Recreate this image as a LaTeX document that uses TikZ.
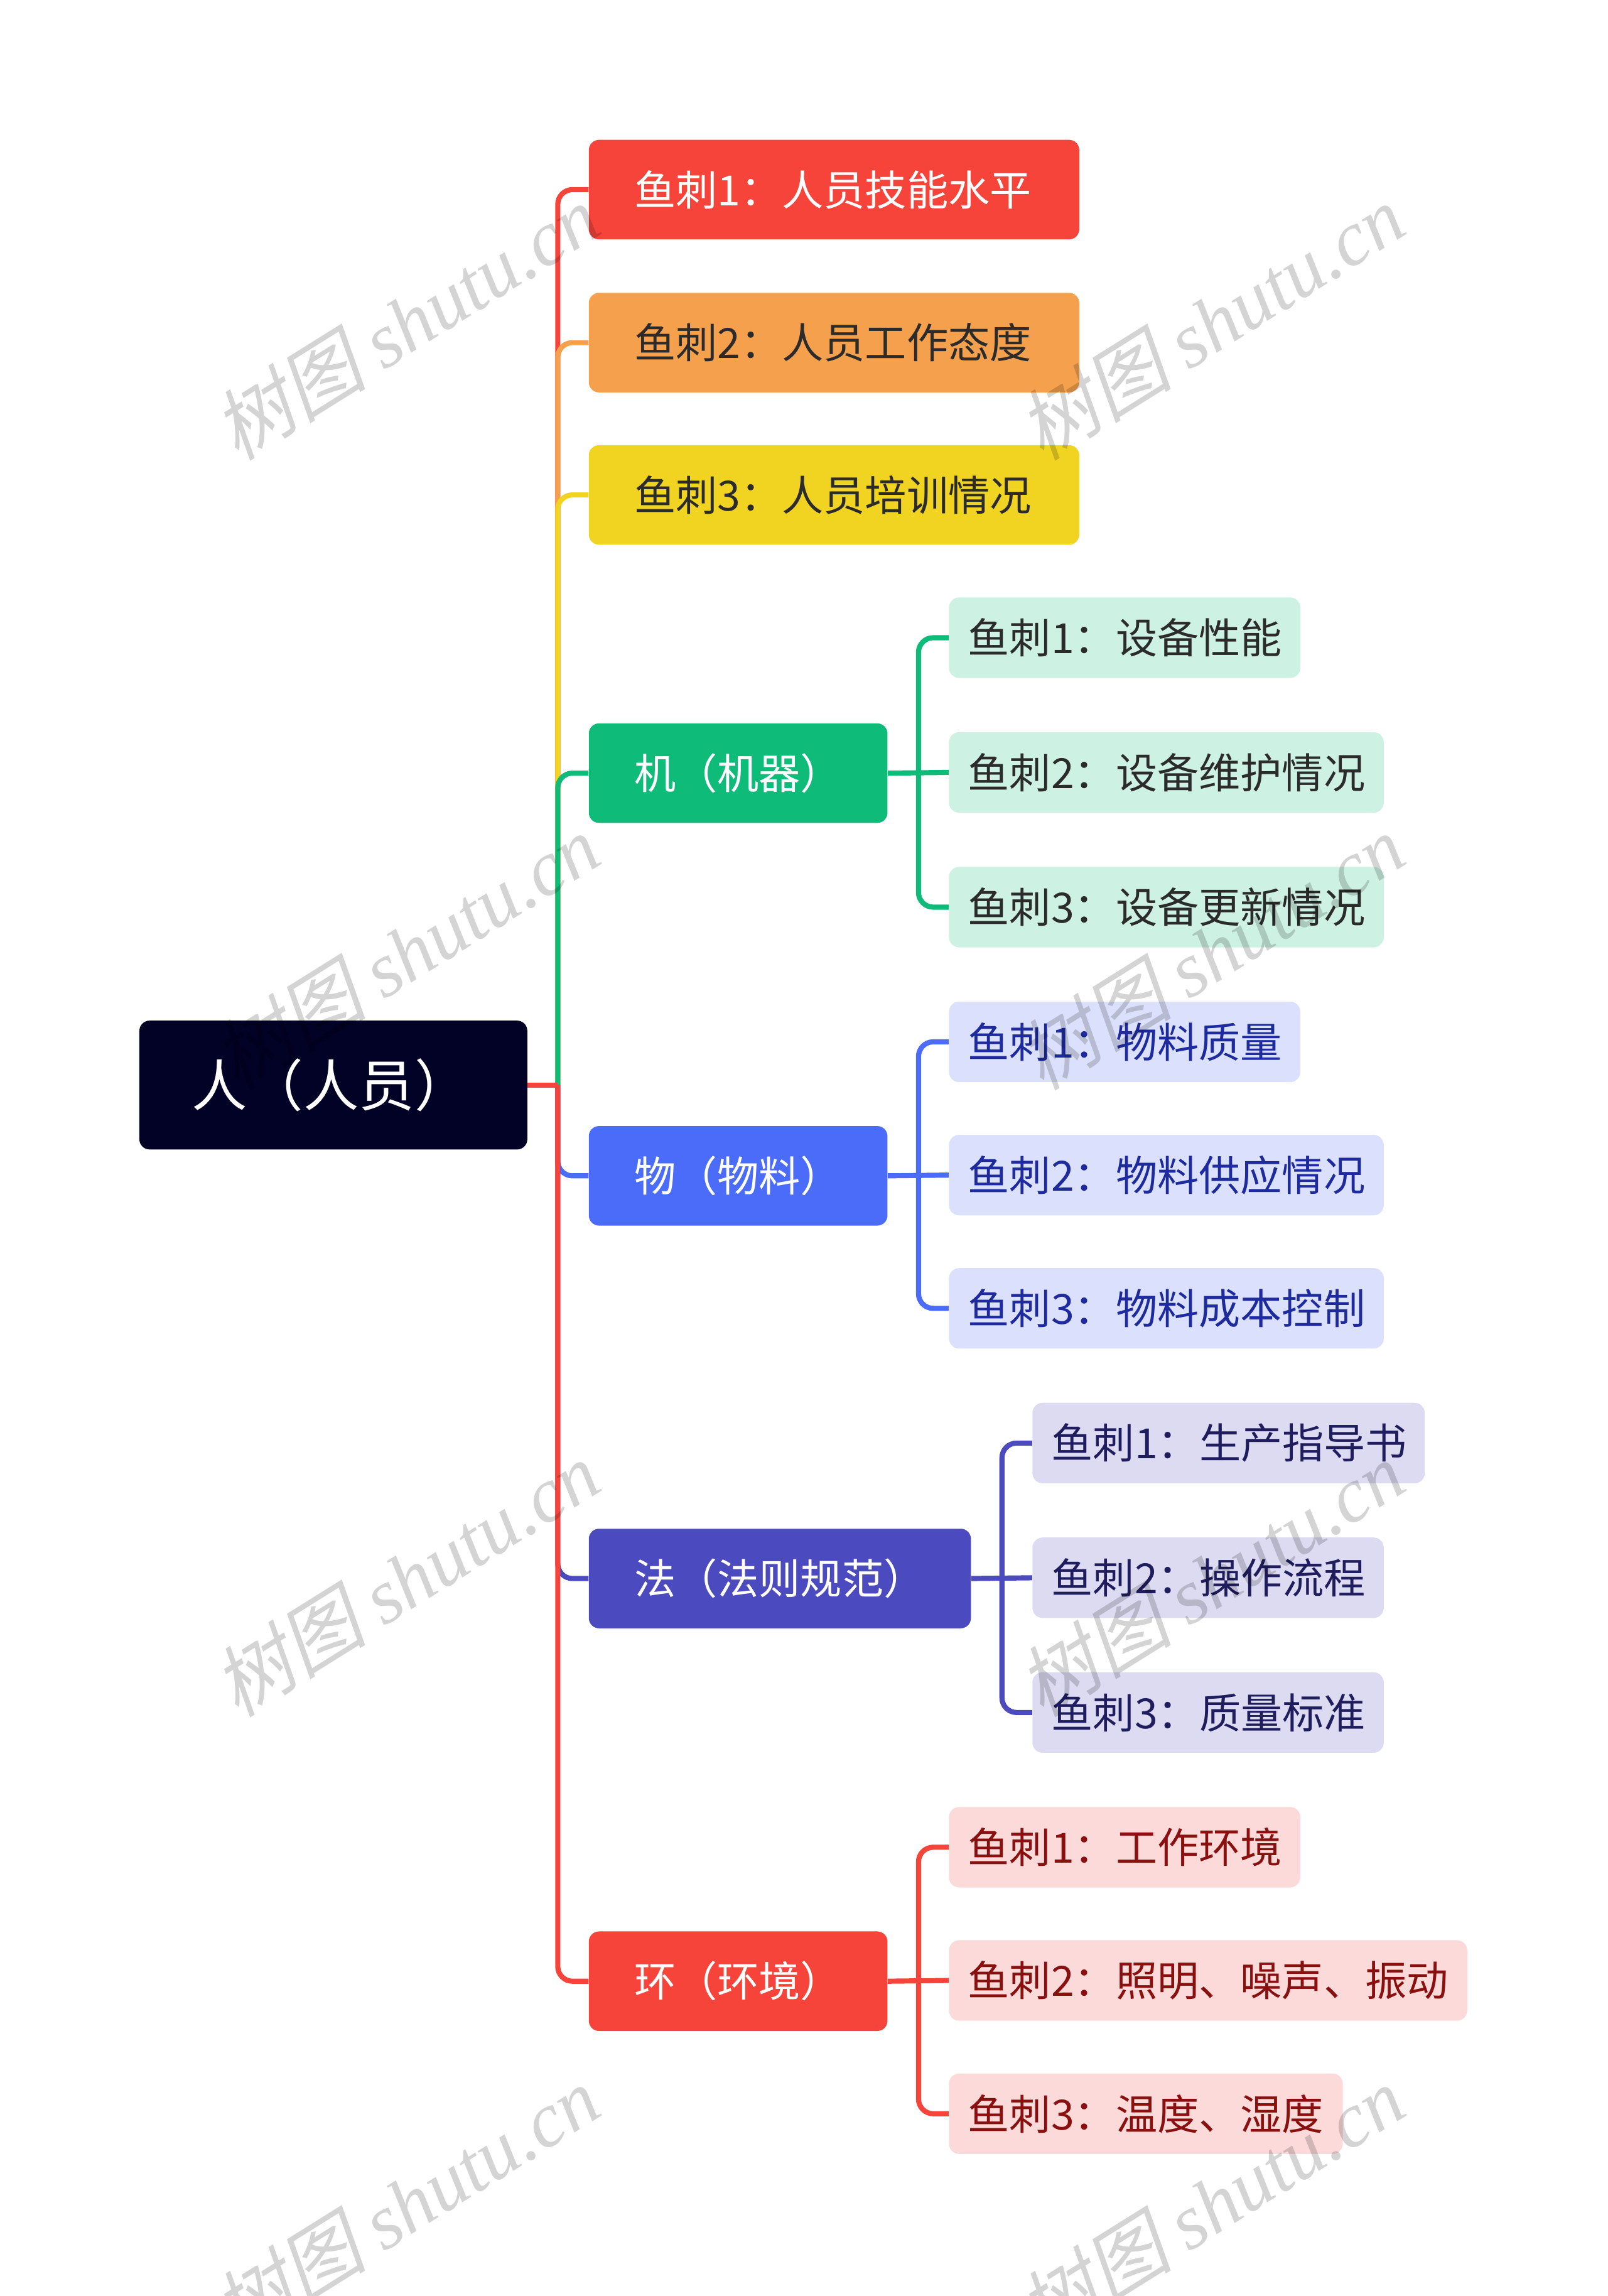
\documentclass[tikz,border=0pt]{standalone}
\usepackage{fontspec}
\setmainfont{Noto Sans CJK SC}
\newfontfamily\wmcjk[FakeSlant=0.22]{Noto Sans CJK SC}
\newfontfamily\wmlatin{Liberation Serif}
\usetikzlibrary{positioning,calc}

\definecolor{rootbg}{HTML}{020226}
\definecolor{redA}{HTML}{F7443A}
\definecolor{orangeA}{HTML}{F4A04C}
\definecolor{yellowA}{HTML}{F1D322}
\definecolor{greenA}{HTML}{0EBB79}
\definecolor{blueA}{HTML}{4A6CF8}
\definecolor{purpleA}{HTML}{4C4ABF}
\definecolor{greenL}{HTML}{CDF1E2}
\definecolor{blueL}{HTML}{DBE1FC}
\definecolor{purpleL}{HTML}{DDDBF2}
\definecolor{redL}{HTML}{FDDADA}
\definecolor{inkdark}{HTML}{2B2B2B}
\definecolor{inkblue}{HTML}{1D2B9E}
\definecolor{inkpurple}{HTML}{201D5E}
\definecolor{inkred}{HTML}{8A1010}

\begin{document}
\begin{tikzpicture}[x=1pt,y=-1pt,
  boxbase/.style={rounded corners=7pt, anchor=west, minimum height=#1, inner ysep=0pt, align=left},
  rootbox/.style={boxbase=88pt, inner xsep=36pt, fill=rootbg, text=white, font=\fontsize{38}{40}\selectfont},
  mainbox/.style={boxbase=68pt, inner xsep=31pt, font=\fontsize{28.4}{30}\selectfont},
  leafbox/.style={boxbase=55pt, inner xsep=13pt, font=\fontsize{28.4}{30}\selectfont},
  link/.style={line width=3.5pt, draw=#1},
  bend/.style={link=#1, rounded corners=10pt},
  wm/.style={rotate=32, text=black, text opacity=0.17, font=\fontsize{53}{55}\selectfont}]
\useasboundingbox (0,0) rectangle (1098,1568);

% Root
\node[rootbox, text width=193pt] (root) at (95,741) {人（人员）};
\coordinate (hub) at (381,741);

% First level
\node[mainbox, fill=redA, text=white, text width=273pt] (ren1) at (402,129.5) {鱼刺1：人员技能水平};
\node[mainbox, fill=orangeA, text=inkdark, text width=273pt] (ren2) at (402,234) {鱼刺2：人员工作态度};
\node[mainbox, fill=yellowA, text=inkdark, text width=273pt] (ren3) at (402,338) {鱼刺3：人员培训情况};
\node[mainbox, fill=greenA, text=white, text width=142pt] (ji) at (402,528) {机（机器）};
\node[mainbox, fill=blueA, text=white, text width=142pt] (wu) at (402,803) {物（物料）};
\node[mainbox, fill=purpleA, text=white, text width=199pt] (fa) at (402,1078) {法（法则规范）};
\node[mainbox, fill=redA, text=white, text width=142pt] (huan) at (402,1353) {环（环境）};

% Machine
\node[leafbox, fill=greenL, text=inkdark, text width=214pt] (jiA) at (648,435.5) {鱼刺1：设备性能};
\node[leafbox, fill=greenL, text=inkdark, text width=271pt] (jiB) at (648,527.5) {鱼刺2：设备维护情况};
\node[leafbox, fill=greenL, text=inkdark, text width=271pt] (jiC) at (648,619.5) {鱼刺3：设备更新情况};

% Material
\node[leafbox, fill=blueL, text=inkblue, text width=214pt] (wuA) at (648,711.5) {鱼刺1：物料质量};
\node[leafbox, fill=blueL, text=inkblue, text width=271pt] (wuB) at (648,802.5) {鱼刺2：物料供应情况};
\node[leafbox, fill=blueL, text=inkblue, text width=271pt] (wuC) at (648,893.5) {鱼刺3：物料成本控制};

% Method
\node[leafbox, fill=purpleL, text=inkpurple, text width=242pt] (faA) at (705,985.5) {鱼刺1：生产指导书};
\node[leafbox, fill=purpleL, text=inkpurple, text width=214pt] (faB) at (705,1077.5) {鱼刺2：操作流程};
\node[leafbox, fill=purpleL, text=inkpurple, text width=214pt] (faC) at (705,1169.5) {鱼刺3：质量标准};

% Environment
\node[leafbox, fill=redL, text=inkred, text width=214pt] (huanA) at (648,1261.5) {鱼刺1：工作环境};
\node[leafbox, fill=redL, text=inkred, text width=328pt] (huanB) at (648,1352.5) {鱼刺2：照明、噪声、振动};
\node[leafbox, fill=redL, text=inkred, text width=243pt] (huanC) at (648,1443.5) {鱼刺3：温度、湿度};

% Connectors
\foreach \n/\c in {ren1/redA, ren2/orangeA, ren3/yellowA, ji/greenA, wu/blueA, fa/purpleA, huan/redA}
  \draw[bend=\c] (hub) |- (\n.west);
\draw[link=redA] (root.east) -- (hub);

\foreach \p/\c in {ji/greenA, wu/blueA, fa/purpleA, huan/redA} {
  \coordinate (\p hub) at ($(\p.east)+(21,0)$);
  \draw[link=\c] (\p.east) -- (\p B.west);
  \foreach \k in {A,C}
    \draw[bend=\c] (\p hub) |- (\p\k.west);
}

% Watermarks
\foreach \x/\y [count=\i] in {277/220, 827/220, 277/650, 827/650, 277/1078, 827/1078, 277/1505, 827/1505}
  \node[wm] (wm\i) at (\x,\y) {{\wmcjk 树图} {\wmlatin\itshape shutu.cn}};
\end{tikzpicture}
\end{document}
